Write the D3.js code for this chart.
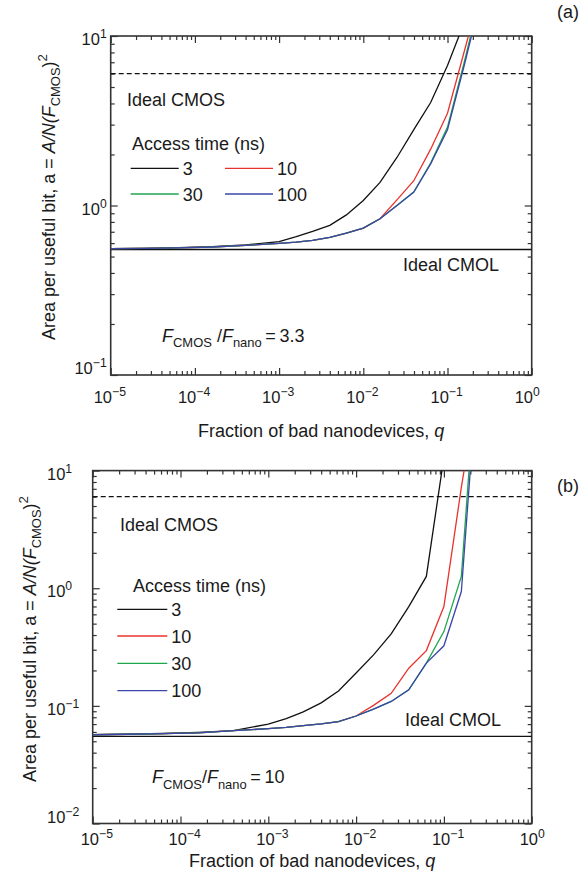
<!DOCTYPE html>
<html>
<head>
<meta charset="utf-8">
<script src="https://cdn.jsdelivr.net/npm/d3@7/dist/d3.min.js"></script>
<style>
  body { margin: 0; background: #fff; }
  svg { display: block; font-family: "Liberation Sans", Arial, Helvetica, sans-serif; }
</style>
</head>
<body>
<svg id="chart" width="584" height="885"></svg>
<script>
// q grid (fraction of bad nanodevices), 0.2-decade steps
const qVals = [1e-5, 2.5e-5, 6.3e-5, 1.6e-4, 4e-4, 1e-3, 1.6e-3, 2.5e-3, 4e-3, 6.3e-3,
  0.01, 0.0158, 0.0251, 0.0398, 0.0631, 0.1, 0.158, 0.251]

// panel (a): F_CMOS / F_nano = 3.3
const a3 = [0.556, 0.559, 0.564, 0.572, 0.585, 0.612, 0.655, 0.703, 0.763, 0.88,
  1.07, 1.37, 1.92, 2.8, 4.05, 6.7, 12]
const a10 = [0.556, 0.558, 0.562, 0.569, 0.581, 0.598, 0.608, 0.622, 0.648, 0.688,
  0.735, 0.835, 1.08, 1.4, 2.15, 3.5, 8.1, 19]
const a30 = [0.556, 0.558, 0.562, 0.569, 0.581, 0.598, 0.608, 0.622, 0.648, 0.688,
  0.735, 0.835, 1.0, 1.2, 1.78, 2.9, 7.0, 18]
const a100 = [0.556, 0.558, 0.562, 0.569, 0.581, 0.598, 0.608, 0.622, 0.648, 0.688,
  0.735, 0.835, 1.0, 1.2, 1.76, 2.8, 6.7, 17]

// panel (b): F_CMOS / F_nano = 10
const b3 = [0.0568, 0.0575, 0.0582, 0.0595, 0.0617, 0.070, 0.078, 0.089, 0.106, 0.134,
  0.19, 0.271, 0.409, 0.698, 1.26, 13]
const b10 = [0.0568, 0.0574, 0.058, 0.059, 0.0615, 0.064, 0.0657, 0.068, 0.0704, 0.0736,
  0.082, 0.101, 0.128, 0.209, 0.295, 0.698, 7.2, 60]
const b30 = [0.0568, 0.0574, 0.058, 0.059, 0.0615, 0.064, 0.0657, 0.068, 0.0704, 0.0736,
  0.082, 0.094, 0.109, 0.137, 0.231, 0.428, 1.26, 150]
const b100 = [0.0568, 0.0574, 0.058, 0.059, 0.0615, 0.064, 0.0657, 0.068, 0.0704, 0.0736,
  0.082, 0.094, 0.109, 0.137, 0.231, 0.324, 0.937, 100]

const accessTimes = ['3', '10', '30', '100']
const seriesColors = ['#111111', '#e8322d', '#1fa64c', '#3a47a8']
const idealCMOS = 6
const idealCMOL = [0.55, 0.055]
const ratioText = ['3.3', '10']

const svg = d3.select('#chart')
const FS = 18

// text with italic / sub / sup parts
function rich(sel, parts, size) {
  let shift = 0
  parts.forEach(p => {
    let target = 0, fs = size
    if (p.sub) { target = size * 0.3; fs = size * 0.72 }
    if (p.sup) { target = -size * 0.42; fs = size * 0.74 }
    const ts = sel.append('tspan').text(p.t).attr('font-size', fs).attr('dy', target - shift)
    if (p.i) ts.attr('font-style', 'italic')
    shift = target
  })
}

function panel(cfg) {
  const { L, R, T, B, yDom, series, cmol, tag, ratio } = cfg
  const x = d3.scaleLog().domain([1e-5, 1]).range([L, R])
  const y = d3.scaleLog().domain(yDom).range([B, T])
  const g = svg.append('g')

  const clipId = 'clip-' + tag
  svg.append('defs').append('clipPath').attr('id', clipId)
    .append('rect').attr('x', L).attr('y', T).attr('width', R - L).attr('height', B - T)

  // 刻度
  const xMajor = d3.range(-5, 1).map(e => Math.pow(10, e))
  const xMinor = []
  xMajor.slice(0, -1).forEach(d => { for (let k = 2; k < 10; k++) xMinor.push(d * k) })
  const yLo = Math.round(Math.log10(yDom[0])), yHi = Math.round(Math.log10(yDom[1]))
  const yMajor = d3.range(yLo, yHi + 1).map(e => Math.pow(10, e))
  const yMinor = []
  yMajor.slice(0, -1).forEach(d => { for (let k = 2; k < 10; k++) yMinor.push(d * k) })

  const axes = [
    [d3.axisBottom, x, `translate(0,${B})`],
    [d3.axisTop, x, `translate(0,${T})`],
    [d3.axisLeft, y, `translate(${L},0)`],
    [d3.axisRight, y, `translate(${R},0)`],
  ]
  axes.forEach(([ax, sc, tr]) => {
    const isX = sc === x
    const maj = isX ? xMajor : yMajor
    const min = isX ? xMinor : yMinor
    const a1 = g.append('g').attr('transform', tr)
      .call(ax(sc).tickValues(maj).tickSize(-7).tickFormat(''))
    const a2 = g.append('g').attr('transform', tr)
      .call(ax(sc).tickValues(min).tickSize(-4).tickFormat(''))
    ;[a1, a2].forEach(a => {
      a.select('.domain').remove()
      a.selectAll('line').attr('stroke', '#333').attr('stroke-width', 1.2)
    })
  })

  // box
  g.append('rect').attr('x', L).attr('y', T).attr('width', R - L).attr('height', B - T)
    .attr('fill', 'none').attr('stroke', '#333').attr('stroke-width', 1.6)

  // x tick labels
  xMajor.forEach(d => {
    const e = Math.round(Math.log10(d))
    const t = g.append('text').attr('x', x(d) + cfg.xLabDx).attr('y', cfg.xLabY).attr('fill', '#1a1a1a')
    rich(t, [{ t: '10' }, { t: e < 0 ? '\u2212' + (-e) : String(e), sup: true }], 16.5)
  })
  // y tick labels
  yMajor.forEach(d => {
    const e = Math.round(Math.log10(d))
    const yy = Math.min(y(d) + 9, B - 1)
    const t = g.append('text').attr('y', yy).attr('fill', '#1a1a1a')
    if (cfg.yLabAnchor === 'end') t.attr('x', L - 4).attr('text-anchor', 'end')
    else t.attr('x', cfg.yLabX)
    rich(t, [{ t: '10' }, { t: e < 0 ? '\u2212' + (-e) : String(e), sup: true }], 16.5)
  })

  // reference lines
  g.append('line').attr('x1', L).attr('x2', R).attr('y1', y(idealCMOS)).attr('y2', y(idealCMOS))
    .attr('stroke', '#111').attr('stroke-width', 1.2).attr('stroke-dasharray', '5,3')
  g.append('line').attr('x1', L).attr('x2', R).attr('y1', y(cmol)).attr('y2', y(cmol))
    .attr('stroke', '#111').attr('stroke-width', 1.4)

  // curves
  const line = d3.line().x(d => x(d[0])).y(d => y(d[1]))
  const cg = g.append('g').attr('clip-path', `url(#${clipId})`)
  series.forEach((vals, i) => {
    cg.append('path').datum(vals.map((v, j) => [qVals[j], v]))
      .attr('d', line).attr('fill', 'none')
      .attr('stroke', seriesColors[i]).attr('stroke-width', 1.3)
  })

  // annotations
  g.append('text').attr('x', cfg.cmosX).attr('y', cfg.cmosY).attr('font-size', FS).attr('fill', '#1a1a1a').text('Ideal CMOS')
  g.append('text').attr('x', cfg.cmolX).attr('y', cfg.cmolY).attr('font-size', FS).attr('fill', '#1a1a1a').text('Ideal CMOL')
  g.append('text').attr('x', cfg.accX).attr('y', cfg.accY).attr('font-size', FS).attr('fill', '#1a1a1a').text('Access time (ns)')

  cfg.legend.forEach((p, i) => {
    g.append('line').attr('x1', p[0]).attr('x2', p[0] + cfg.legLen).attr('y1', p[1]).attr('y2', p[1])
      .attr('stroke', seriesColors[i]).attr('stroke-width', 1.3)
    g.append('text').attr('x', p[0] + cfg.legLen + 4).attr('y', p[1] + 6.5)
      .attr('font-size', FS).attr('fill', '#1a1a1a').text(accessTimes[i])
  })

  const rt = g.append('text').attr('x', cfg.ratX).attr('y', cfg.ratY).attr('fill', '#1a1a1a')
  rich(rt, [
    { t: 'F', i: true }, { t: 'CMOS', sub: true }, { t: cfg.ratSep },
    { t: 'F', i: true }, { t: 'nano', sub: true }, { t: '\u2009=\u2009' + ratio }
  ], FS)

  // axis titles
  const xt = g.append('text').attr('x', (L + R) / 2).attr('y', cfg.xTitleY)
    .attr('text-anchor', 'middle').attr('fill', '#1a1a1a')
  rich(xt, [{ t: 'Fraction of bad nanodevices, ' }, { t: 'q', i: true }], FS)

  const yt = g.append('text')
    .attr('transform', `translate(${cfg.yTitleX},${cfg.yTitleMid}) rotate(-90)`)
    .attr('text-anchor', 'middle').attr('fill', '#1a1a1a')
  rich(yt, [
    { t: 'Area per useful bit, a = ' }, { t: 'A/N(F', i: true }, { t: 'CMOS', sub: true },
    { t: ')' }, { t: '2', sup: true }
  ], 18)

  svg.append('text').attr('x', 557).attr('y', cfg.tagY).attr('font-size', FS).attr('fill', '#1a1a1a').text(`(${tag})`)
}

panel({
  tag: 'a', L: 110.7, R: 531.7, T: 36, B: 375, yDom: [0.1, 10],
  series: [a3, a10, a30, a100], cmol: idealCMOL[0], ratio: ratioText[0], ratSep: ' /',
  xLabDx: -17, xLabY: 403, yLabAnchor: 'end',
  cmosX: 127, cmosY: 106, cmolX: 403, cmolY: 270.7, accX: 132, accY: 150,
  legLen: 48, legend: [[130.7, 168.3], [225, 168.3], [130.7, 194], [225, 194]],
  ratX: 162, ratY: 341.7, xTitleY: 437, yTitleX: 55, yTitleMid: 197, tagY: 18
})

panel({
  tag: 'b', L: 92.7, R: 531.7, T: 470.6, B: 823.5, yDom: [0.01, 10],
  series: [b3, b10, b30, b100], cmol: idealCMOL[1], ratio: ratioText[1], ratSep: '/',
  xLabDx: -12, xLabY: 845, yLabAnchor: 'start', yLabX: 47,
  cmosX: 120, cmosY: 531, cmolX: 405, cmolY: 725.7, accX: 133, accY: 591.7,
  legLen: 50, legend: [[117.3, 609.3], [117.3, 636], [117.3, 663.3], [117.3, 690.7]],
  ratX: 152, ratY: 783.3, xTitleY: 866.5, yTitleX: 36, yTitleMid: 639, tagY: 492
})
</script>
</body>
</html>
